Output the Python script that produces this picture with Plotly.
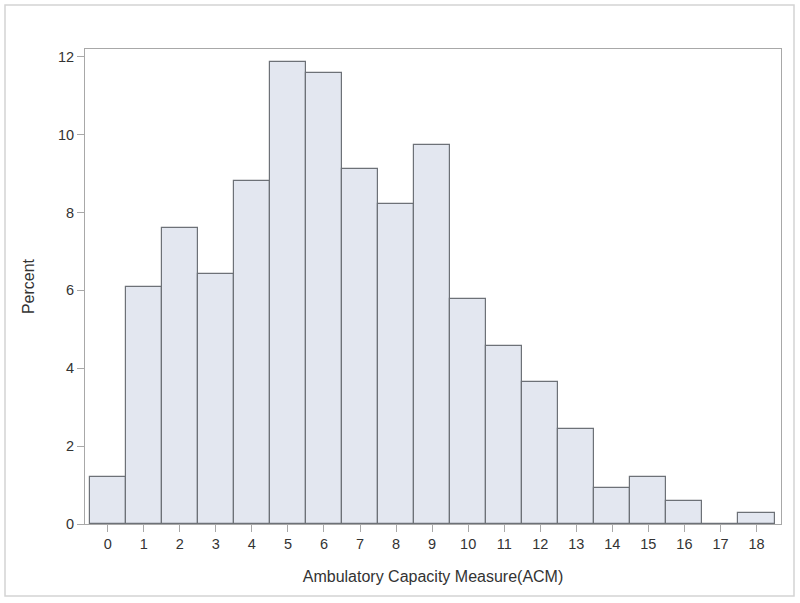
import plotly.graph_objects as go

acm = list(range(19))
percent = [1.2, 6.08, 7.6, 6.41, 8.82, 11.86, 11.58, 9.12, 8.22, 9.73,
           5.78, 4.57, 3.65, 2.44, 0.92, 1.2, 0.6, 0.0, 0.29]
y_ticks = [0, 2, 4, 6, 8, 10, 12]

fig = go.Figure()
fig.add_trace(go.Bar(
    x=acm, y=percent, width=1,
    marker=dict(color="#E3E7F0", line=dict(color="#6D7177", width=1.2)),
    hoverinfo="x+y",
))

W, H = 800, 603
l, r, t, b = 85, 19, 49, 79
pw, ph = W - l - r, H - t - b

def px(xp):
    return (xp - l) / pw

def py(yp):
    return (H - b - yp) / ph

fig.update_layout(
    width=W, height=H,
    margin=dict(l=l, r=r, t=t, b=b),
    paper_bgcolor="white", plot_bgcolor="white",
    font=dict(family="Liberation Sans, Arial, sans-serif", size=15, color="#333333"),
    showlegend=False, bargap=0,
    shapes=[dict(type="rect", xref="paper", yref="paper",
                 x0=px(5), x1=px(794), y0=py(596), y1=py(5),
                 line=dict(color="#D4D4D4", width=1.5), fillcolor="rgba(0,0,0,0)",
                 layer="below")],
)
fig.update_xaxes(
    range=[-0.63, 18.68], tickmode="array", tickvals=acm, ticktext=[str(v) for v in acm],
    showgrid=False, zeroline=False, showline=True, mirror=True, linecolor="#A8A8A8",
    linewidth=1, ticks="outside", ticklen=7, tickcolor="#A8A8A8",
    tickfont=dict(size=14.5),
    title=dict(text="Ambulatory Capacity Measure(ACM)", font=dict(size=16), standoff=19),
)
fig.update_yaxes(
    range=[0, 12.2], tickmode="array", tickvals=y_ticks,
    showgrid=False, zeroline=False, showline=True, mirror=True, linecolor="#A8A8A8",
    linewidth=1, ticks="outside", ticklen=7, tickcolor="#A8A8A8",
    tickfont=dict(size=14.5),
    title=dict(text="Percent", font=dict(size=16), standoff=19),
)
fig.write_html("out.html", config={"displayModeBar": False},
               post_script="document.body.style.margin='0';")
